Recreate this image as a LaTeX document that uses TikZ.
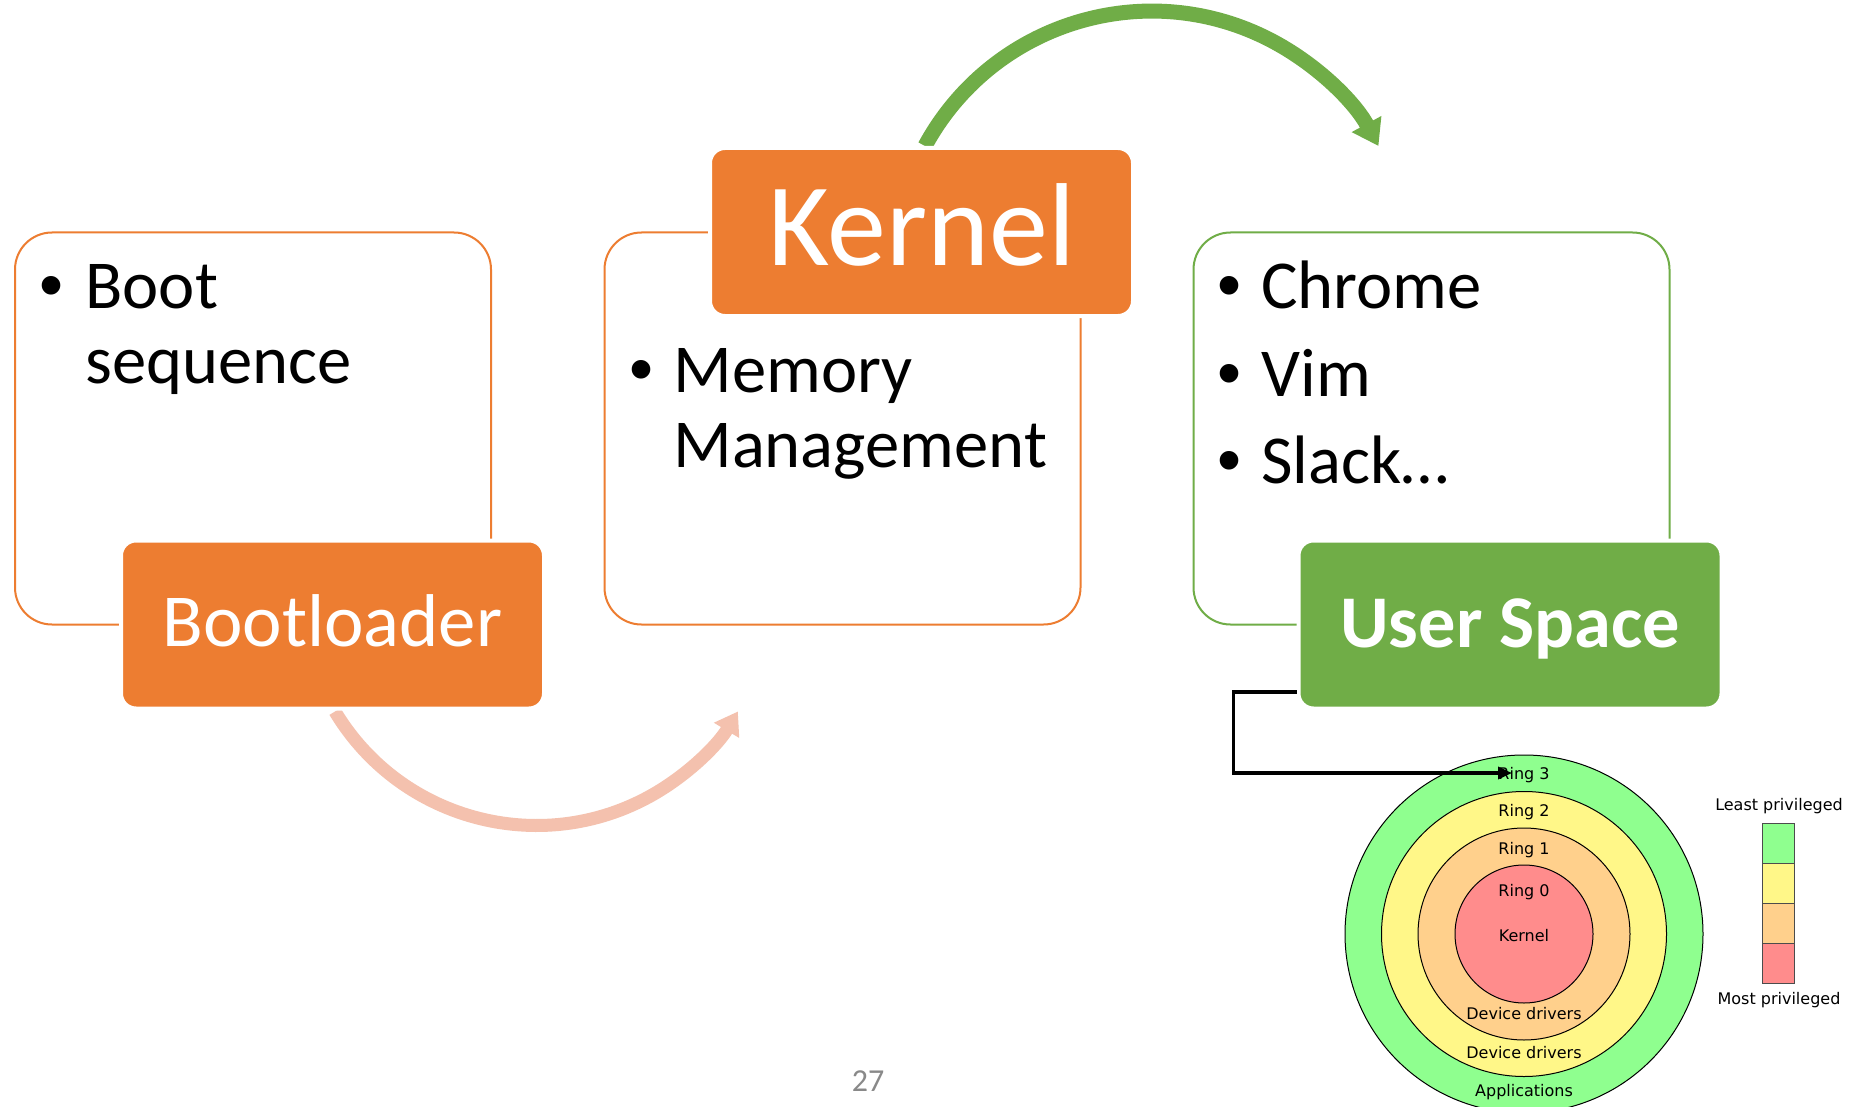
\documentclass[tikz,border=0pt]{standalone}
\usepackage{fontspec}
\setmainfont{Carlito}
\newfontfamily\ringfont{DejaVu Sans}
\newfontfamily\bulfont{Liberation Sans}
\usetikzlibrary{arrows.meta}
\pgfdeclarelayer{bg}
\pgfsetlayers{bg,main}
\definecolor{accOrange}{HTML}{ED7D31}
\definecolor{accGreen}{HTML}{70AD47}
\definecolor{arrPink}{HTML}{F4C1AE}
\definecolor{ringGreen}{HTML}{8FFF8F}
\definecolor{ringYellow}{HTML}{FFF788}
\definecolor{ringOrange}{HTML}{FFD08C}
\definecolor{ringRed}{HTML}{FF8C8C}
\definecolor{pageGray}{HTML}{898989}
\begin{document}
\begin{tikzpicture}[x=0.5pt,y=0.5pt,
  bigbox/.style={draw, line width=1pt, rounded corners=18.5pt, minimum width=238pt, minimum height=196pt, inner sep=0pt},
  labelbox/.style={draw=white, line width=2pt, rounded corners=7.5pt, minimum width=211.5pt, minimum height=84pt, inner sep=0pt},
  itemtext/.style={anchor=base west, inner sep=0pt, font=\fontsize{34.3}{40}\selectfont},
  bul/.style={anchor=base, inner sep=0pt, font=\bulfont\fontsize{34.3}{40}\selectfont},
  ringlbl/.style={anchor=base, inner sep=0pt, font=\ringfont\fontsize{8}{10}\selectfont},
  ringc/.style={circle, draw=black, line width=0.5pt, inner sep=0pt},
  legbox/.style={draw=black!70, line width=0.5pt},
  bigarrow/.style={line width=#1pt},
]
\clip (0,0) rectangle (1852,-1107);

% big boxes
\node[bigbox, draw=accOrange] (bootbox) at (253,-428.5) {};
\node[bigbox, draw=accOrange] (kernbox) at (842.5,-428.5) {};
\node[bigbox, draw=accGreen] (userbox) at (1431.5,-428.5) {};

% label boxes
\node[labelbox, fill=accOrange] (boot) at (332.5,-624.5) {};
\node[labelbox, fill=accOrange] (kernel) at (921.5,-232) {};
\node[labelbox, fill=accGreen] (user) at (1510,-624.5) {};

\node[anchor=base, inner sep=0pt, text=white, font=\fontsize{37.4}{44}\selectfont] (bootT) at (332.5,-646) {Bootloader};
\node[anchor=base, inner sep=0pt, text=white, font=\fontsize{59}{66}\selectfont] (kernT) at (921.5,-266) {Kernel};
\node[anchor=base, inner sep=0pt, text=white, font=\bfseries\fontsize{37.2}{44}\selectfont] (userT) at (1510,-647) {User Space};

% items
\node[bul] (b1) at (52,-308) {•};
\node[itemtext] (t1a) at (85,-308) {Boot};
\node[itemtext] (t1b) at (85,-383) {sequence};
\node[bul] (b2) at (641,-392) {•};
\node[itemtext] (t2a) at (673,-392) {Memory};
\node[itemtext] (t2b) at (673,-467) {Management};
\node[bul] (b3) at (1229,-308) {•};
\node[itemtext] (t3a) at (1261,-308) {Chrome};
\node[bul] (b4) at (1229,-396) {•};
\node[itemtext] (t3b) at (1261,-396) {Vim};
\node[bul] (b5) at (1229,-483) {•};
\node[itemtext] (t3c) at (1261,-483) {Slack…};

% page number
\node[inner sep=0pt, text=pageGray, font=\fontsize{16}{19}\selectfont] (page) at (868,-1081) {27};

% rings
\node[ringc, fill=ringGreen, minimum size=179pt] (r3c) at (1524,-934) {};
\node[ringc, fill=ringYellow, minimum size=142.5pt] (r2c) at (1524,-934) {};
\node[ringc, fill=ringOrange, minimum size=106pt] (r1c) at (1524,-934) {};
\node[ringc, fill=ringRed, minimum size=69pt] (r0c) at (1524,-934) {};
\node[ringlbl] (l3) at (1524,-779) {Ring 3};
\node[ringlbl] (l2) at (1524,-816) {Ring 2};
\node[ringlbl] (l1) at (1524,-854) {Ring 1};
\node[ringlbl] (l0) at (1524,-896) {Ring 0};
\node[ringlbl] (lk) at (1524,-941) {Kernel};
\node[ringlbl] (ld1) at (1524,-1019) {Device drivers};
\node[ringlbl] (ld2) at (1524,-1058) {Device drivers};
\node[ringlbl] (la) at (1524,-1096) {Applications};

% legend
\draw[legbox, fill=ringGreen] (1762,-823) rectangle (1794,-863);
\draw[legbox, fill=ringYellow] (1762,-863) rectangle (1794,-903);
\draw[legbox, fill=ringOrange] (1762,-903) rectangle (1794,-943);
\draw[legbox, fill=ringRed] (1762,-943) rectangle (1794,-983);
\node[ringlbl] (least) at (1779,-810) {Least privileged};
\node[ringlbl] (most) at (1779,-1004) {Most privileged};

% connectors
\coordinate (ring3in) at (1512,-773);
\draw[line width=1.75pt, -{Triangle[length=7pt,width=6pt]}] ([yshift=-33.75pt]user.west) -- ++(-63,0) |- (ring3in);

\begin{pgfonlayer}{bg}
\fill[white] (0,0) rectangle (1852,-1107);
\draw[accGreen, bigarrow=7.5, -{Triangle[length=12.5pt,width=16pt]}] ([xshift=1.75pt]kernel.north) arc[start angle=151.5, end angle=28.5, radius=258];
\draw[arrPink, bigarrow=6.5, -{Triangle[length=11pt,width=14pt]}] ([xshift=1.25pt,yshift=-0.5pt]boot.south) arc[start angle=211, end angle=329, radius=235];
\end{pgfonlayer}
\end{tikzpicture}
\end{document}
